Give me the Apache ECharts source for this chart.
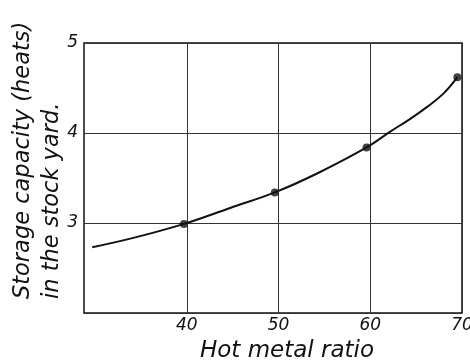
<!DOCTYPE html>
<html>
<head>
<meta charset="utf-8">
<script src="https://cdn.jsdelivr.net/npm/echarts@6/dist/echarts.min.js"></script>
<style>
  html, body { margin: 0; padding: 0; background: #fff; }
  #chart { width: 470px; height: 363px; }
</style>
</head>
<body>
<div id="chart"></div>
<script>
// curve
var curveX = [29.7, 34.4, 39.7, 44.8, 49.6, 54.2, 59.6, 62.1, 64.4, 66.2, 68.0, 69.5];
var curveY = [2.73, 2.84, 2.99, 3.17, 3.34, 3.55, 3.84, 4.01, 4.16, 4.29, 4.44, 4.62];
// measured points
var pointX = [39.7, 49.6, 59.6, 69.5];
var pointY = [2.99, 3.34, 3.84, 4.62];
var xTicks = [40, 50, 60, 70];

var chart = echarts.init(document.getElementById('chart'));

var labelFont = { fontFamily: 'DejaVu Sans', fontStyle: 'italic', color: '#111' };

var option = {
  animation: false,
  backgroundColor: '#fff',
  grid: {
    left: 84, top: 43, right: 8, bottom: 50,
    outerBoundsMode: 'none',
    show: true, borderColor: '#111', borderWidth: 1.5
  },
  xAxis: {
    type: 'value', min: 28.8, max: 70,
    name: 'Hot metal ratio', nameLocation: 'middle', nameGap: 27,
    nameTextStyle: Object.assign({ fontSize: 23, padding: [0, 0, 0, 28] }, labelFont),
    axisLine: { show: false },
    axisTick: { show: false, customValues: xTicks },
    axisLabel: Object.assign({ fontSize: 17, margin: 4, customValues: xTicks }, labelFont),
    splitLine: { show: true, lineStyle: { color: '#333', width: 1 } }
  },
  yAxis: {
    type: 'value', min: 2, max: 5, interval: 1,
    axisLine: { show: false },
    axisTick: { show: false },
    axisLabel: Object.assign({ fontSize: 17, margin: 6, showMinLabel: false }, labelFont),
    splitLine: { show: true, lineStyle: { color: '#333', width: 1 } }
  },
  graphic: [{
    type: 'text',
    x: 9, y: 299,
    rotation: Math.PI / 2,
    style: {
      text: 'Storage capacity (heats)\nin the stock yard.',
      fontFamily: 'DejaVu Sans', fontStyle: 'italic', fontSize: 22.5,
      lineHeight: 29, fill: '#111',
      align: 'left', verticalAlign: 'top'
    }
  }],
  series: [
    {
      type: 'line',
      data: curveX.map(function (x, i) { return [x, curveY[i]]; }),
      smooth: 0.4,
      showSymbol: false,
      lineStyle: { color: '#111', width: 2 }
    },
    {
      type: 'scatter',
      data: pointX.map(function (x, i) { return [x, pointY[i]]; }),
      symbolSize: 8,
      itemStyle: { color: '#111' }
    }
  ]
};

chart.setOption(option);
</script>
</body>
</html>
